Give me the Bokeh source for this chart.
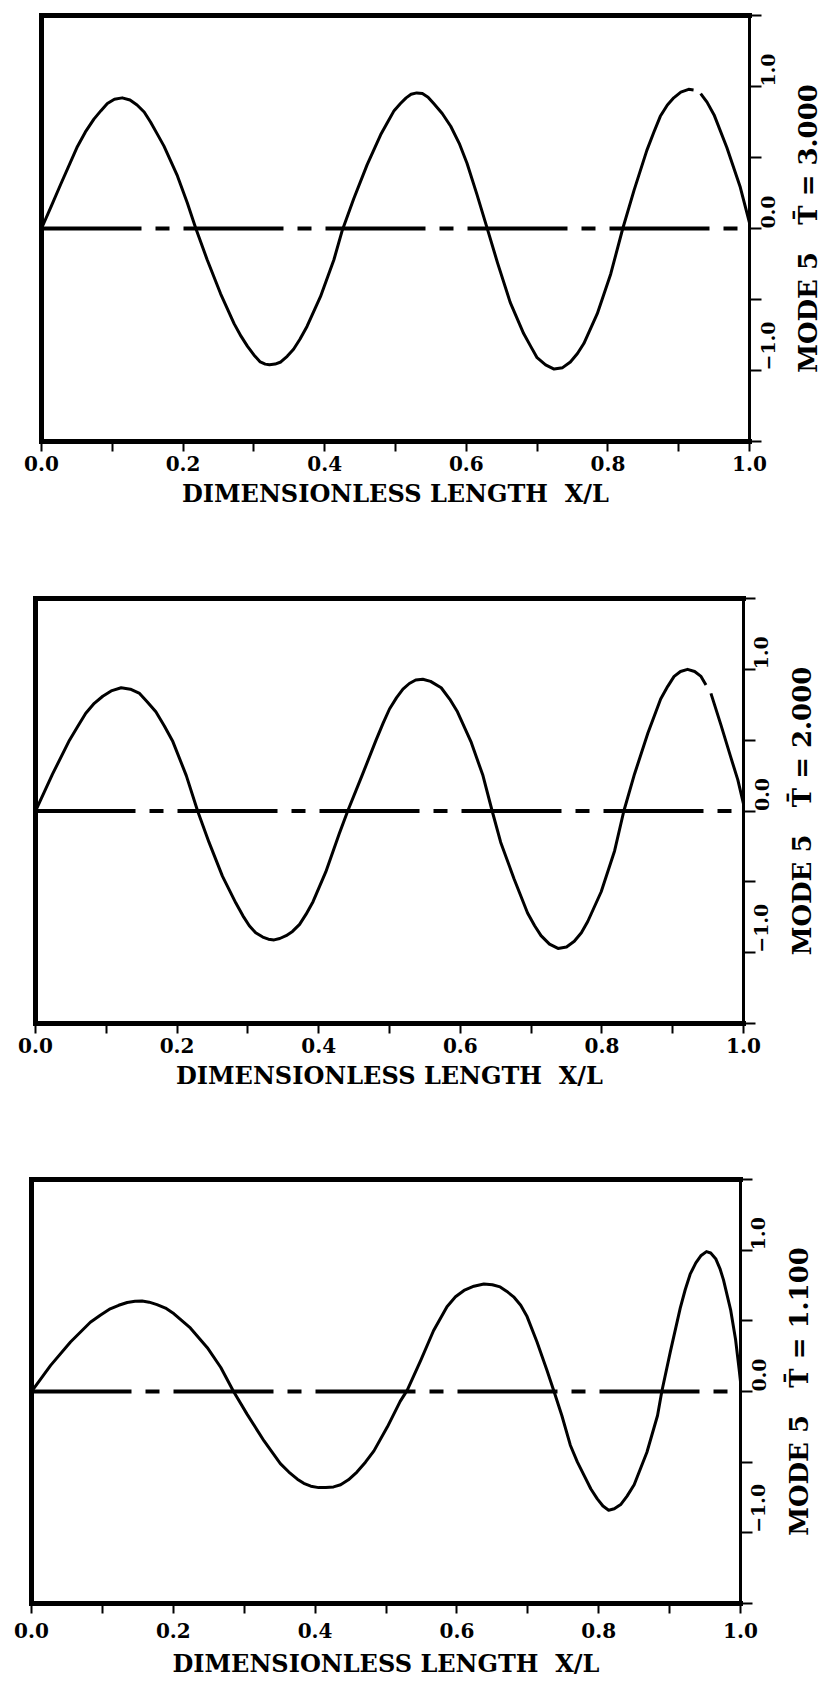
import math
from bokeh.plotting import figure
from bokeh.models import Range1d, LinearAxis, FixedTicker, PrintfTickFormatter
from bokeh.layouts import column, row
from bokeh.embed import file_html
from bokeh.resources import INLINE

NAN = float("nan")

# ---------------- data ----------------
x_ticks = [0.0, 0.2, 0.4, 0.6, 0.8, 1.0]
x_minor = [0.1, 0.3, 0.5, 0.7, 0.9]
y_ticks = [-1.0, 0.0, 1.0]
y_minor = [-1.5, -0.5, 0.5, 1.5]
y_tick_labels = {-1.0: "\u22121.0", 0.0: "0.0", 1.0: "1.0"}
x_title = "DIMENSIONLESS LENGTH\u00a0\u00a0X/L"

zero_x = [0.0, 1.0]
zero_y = [0.0, 0.0]

# MODE 5, T = 3.000
t3_label = "MODE 5\u00a0\u00a0\u00a0T\u0304 = 3.000"
t3_x = [0.000, 0.014, 0.027, 0.050, 0.062, 0.074, 0.084, 0.093, 0.103, 0.114,
        0.125, 0.135, 0.145, 0.154, 0.163, 0.173, 0.192, 0.206, 0.218, 0.234,
        0.253, 0.272, 0.282, 0.291, 0.300, 0.309, 0.316, 0.322, 0.330, 0.338,
        0.347, 0.356, 0.365, 0.375, 0.394, 0.413, 0.425, 0.441, 0.460, 0.479,
        0.489, 0.498, 0.507, 0.515, 0.522, 0.530, 0.538, 0.546, 0.554, 0.566,
        0.578, 0.590, 0.601, 0.615, 0.629, 0.644, 0.662, 0.681, 0.691, 0.700,
        0.712, 0.724, 0.736, 0.747, 0.757, 0.766, 0.785, 0.804, 0.821, 0.837,
        0.855, 0.865, 0.874, 0.884, 0.893, 0.903, 0.914, 0.921, NAN, 0.931,
        0.940, 0.950, 0.968, 0.987, 1.000]
t3_y = [0.00, 0.16, 0.31, 0.57, 0.68, 0.77, 0.83, 0.88, 0.91, 0.92,
        0.905, 0.87, 0.82, 0.75, 0.67, 0.58, 0.37, 0.18, 0.00, -0.22,
        -0.46, -0.67, -0.76, -0.83, -0.89, -0.94, -0.955, -0.96, -0.955, -0.94,
        -0.90, -0.85, -0.78, -0.69, -0.48, -0.22, -0.01, 0.21, 0.45, 0.66,
        0.75, 0.83, 0.88, 0.92, 0.945, 0.955, 0.95, 0.925, 0.88, 0.81,
        0.72, 0.60, 0.46, 0.24, 0.01, -0.24, -0.52, -0.74, -0.83, -0.91,
        -0.96, -0.99, -0.98, -0.94, -0.88, -0.81, -0.60, -0.32, 0.00, 0.27,
        0.55, 0.68, 0.79, 0.87, 0.92, 0.96, 0.98, 0.975, NAN, 0.95,
        0.89, 0.80, 0.57, 0.29, 0.04]

# MODE 5, T = 2.000
t2_label = "MODE 5\u00a0\u00a0\u00a0T\u0304 = 2.000"
t2_x = [0.000, 0.012, 0.024, 0.048, 0.060, 0.071, 0.083, 0.095, 0.108, 0.121,
        0.134, 0.147, 0.158, 0.170, 0.182, 0.194, 0.213, 0.229, 0.245, 0.264,
        0.283, 0.293, 0.302, 0.311, 0.321, 0.329, 0.337, 0.345, 0.354, 0.363,
        0.373, 0.382, 0.392, 0.410, 0.429, 0.441, 0.462, 0.481, 0.491, 0.500,
        0.510, 0.519, 0.528, 0.537, 0.547, 0.558, 0.573, 0.585, 0.596, 0.615,
        0.632, 0.645, 0.657, 0.676, 0.695, 0.705, 0.714, 0.726, 0.738, 0.750,
        0.761, 0.771, 0.780, 0.799, 0.818, 0.831, 0.846, 0.865, 0.883, 0.893,
        0.902, 0.911, 0.921, 0.931, 0.940, 0.947, NAN, 0.954, 0.968, 0.982,
        0.992, 1.000]
t2_y = [0.00, 0.13, 0.26, 0.50, 0.60, 0.69, 0.76, 0.81, 0.85, 0.87,
        0.86, 0.83, 0.77, 0.70, 0.60, 0.49, 0.25, 0.00, -0.22, -0.46,
        -0.65, -0.74, -0.81, -0.86, -0.89, -0.905, -0.91, -0.90, -0.88, -0.85,
        -0.80, -0.73, -0.64, -0.43, -0.16, 0.00, 0.26, 0.50, 0.62, 0.72,
        0.80, 0.86, 0.90, 0.925, 0.93, 0.915, 0.87, 0.79, 0.70, 0.49,
        0.25, 0.00, -0.22, -0.48, -0.72, -0.81, -0.88, -0.94, -0.97, -0.96,
        -0.92, -0.86, -0.78, -0.57, -0.28, 0.00, 0.26, 0.55, 0.79, 0.88,
        0.95, 0.985, 1.00, 0.985, 0.95, 0.89, NAN, 0.83, 0.61, 0.38,
        0.22, 0.05]

# MODE 5, T = 1.100
t1_label = "MODE 5\u00a0\u00a0\u00a0T\u0304 = 1.100"
t1_x = [0.000, 0.027, 0.055, 0.083, 0.097, 0.111, 0.123, 0.135, 0.146, 0.156,
        0.166, 0.177, 0.189, 0.201, 0.224, 0.248, 0.267, 0.285, 0.304, 0.328,
        0.351, 0.363, 0.375, 0.384, 0.394, 0.405, 0.415, 0.426, 0.436, 0.447,
        0.459, 0.471, 0.483, 0.502, 0.520, 0.530, 0.549, 0.567, 0.586, 0.598,
        0.610, 0.624, 0.638, 0.650, 0.661, 0.670, 0.680, 0.690, 0.699, 0.713,
        0.727, 0.737, 0.748, 0.760, 0.770, 0.779, 0.789, 0.798, 0.806, 0.814,
        0.822, 0.831, 0.840, 0.850, 0.868, 0.883, 0.889, 0.901, 0.915, 0.922,
        0.929, 0.937, 0.944, 0.952, 0.958, 0.965, 0.971, 0.976, 0.986, 0.993,
        0.998, 1.000]
t1_y = [0.00, 0.185, 0.35, 0.49, 0.54, 0.585, 0.61, 0.63, 0.638, 0.64,
        0.632, 0.615, 0.59, 0.55, 0.45, 0.31, 0.17, 0.00, -0.16, -0.35,
        -0.51, -0.57, -0.62, -0.65, -0.67, -0.68, -0.68, -0.675, -0.66, -0.625,
        -0.57, -0.50, -0.42, -0.25, -0.07, 0.01, 0.22, 0.43, 0.60, 0.67,
        0.715, 0.745, 0.76, 0.755, 0.74, 0.71, 0.67, 0.61, 0.53, 0.35,
        0.15, 0.00, -0.17, -0.38, -0.50, -0.59, -0.69, -0.76, -0.81, -0.84,
        -0.83, -0.80, -0.74, -0.66, -0.43, -0.17, 0.00, 0.28, 0.59, 0.72,
        0.83, 0.91, 0.96, 0.99, 0.98, 0.94, 0.87, 0.79, 0.58, 0.37,
        0.16, 0.07]

FONT = "DejaVu Serif"
RIGHT = 40      # space for right-axis ticks and labels
STRIP_L = 31    # strip space holding the side title


def make_panel(xs, ys, label, left, top, fw, fh, bottom,
               tick_standoff, title_standoff):
    label_w = 826 - left - fw - RIGHT
    p = figure(frame_width=fw, frame_height=fh,
               min_border_left=left, min_border_top=top,
               min_border_right=RIGHT, min_border_bottom=bottom,
               x_range=Range1d(0, 1), y_range=Range1d(-1.5, 1.5),
               y_axis_location="right", x_axis_location="below",
               output_backend="svg", toolbar_location=None,
               background_fill_color="white", border_fill_color="white")
    p.outline_line_color = None
    p.xgrid.visible = False
    p.ygrid.visible = False

    # bottom axis
    xa = p.xaxis[0]
    xa.ticker = FixedTicker(ticks=x_ticks, minor_ticks=x_minor)
    xa.formatter = PrintfTickFormatter(format="%.1f")
    xa.axis_line_width = 5
    xa.axis_line_cap = "square"
    xa.major_tick_in = 0
    xa.major_tick_out = 10
    xa.minor_tick_in = 0
    xa.minor_tick_out = 10
    xa.major_tick_line_width = 2
    xa.minor_tick_line_width = 2
    xa.major_label_standoff = tick_standoff
    xa.major_label_text_font = FONT
    xa.major_label_text_font_style = "bold"
    xa.major_label_text_font_size = "20px"
    xa.major_label_text_color = "black"
    xa.axis_label = x_title
    xa.axis_label_text_font = FONT
    xa.axis_label_text_font_style = "bold"
    xa.axis_label_text_font_size = "24px"
    xa.axis_label_text_color = "black"
    xa.axis_label_standoff = title_standoff

    # right axis
    ya = p.yaxis[0]
    ya.ticker = FixedTicker(ticks=y_ticks, minor_ticks=y_minor)
    ya.major_label_overrides = y_tick_labels
    ya.axis_line_width = 3
    ya.major_tick_in = 0
    ya.major_tick_out = 12
    ya.minor_tick_in = 0
    ya.minor_tick_out = 12
    ya.major_tick_line_width = 2
    ya.minor_tick_line_width = 2
    ya.major_label_orientation = math.pi / 2
    ya.major_label_standoff = 6
    ya.major_label_text_font = FONT
    ya.major_label_text_font_style = "bold"
    ya.major_label_text_font_size = "19px"
    ya.major_label_text_color = "black"

    # thick left / top frame lines
    for side in ("left", "above"):
        ax = LinearAxis(ticker=FixedTicker(ticks=[]), axis_line_width=5,
                        axis_line_cap="square", major_tick_out=0, major_tick_in=0,
                        minor_tick_out=0, minor_tick_in=0,
                        major_label_text_font_size="0px")
        p.add_layout(ax, side)

    # zero (dashed) line and mode shape
    p.line(zero_x, zero_y, line_color="black", line_width=4, line_dash="100 14 14 14")
    p.line(xs, ys, line_color="black", line_width=3, line_join="round")

    # side title "MODE 5  T = ...": the label of a bare left axis in a thin strip
    # (left-axis labels read upward and are centred on the frame)
    q = figure(frame_width=2, frame_height=fh,
               min_border_left=STRIP_L, min_border_right=label_w - STRIP_L - 2,
               min_border_top=top, min_border_bottom=bottom,
               x_range=Range1d(0, 1), y_range=Range1d(-1.5, 1.5),
               x_axis_type=None, y_axis_location="left",
               output_backend="svg", toolbar_location=None,
               background_fill_color="white", border_fill_color="white")
    q.outline_line_color = None
    q.xgrid.visible = False
    q.ygrid.visible = False
    qa = q.yaxis[0]
    qa.ticker = FixedTicker(ticks=[])
    qa.axis_line_color = None
    qa.major_tick_out = 0
    qa.major_tick_in = 0
    qa.minor_tick_out = 0
    qa.minor_tick_in = 0
    qa.major_label_text_font_size = "0px"
    qa.major_label_standoff = 0
    qa.axis_label = label
    qa.axis_label_text_font = FONT
    qa.axis_label_text_font_style = "bold"
    qa.axis_label_text_font_size = "26px"
    qa.axis_label_text_color = "black"
    qa.axis_label_standoff = 0
    return row(p, q, spacing=0)


r1 = make_panel(t3_x, t3_y, t3_label, left=41, top=15, fw=708, fh=426, bottom=139,
                tick_standoff=4, title_standoff=5)
r2 = make_panel(t2_x, t2_y, t2_label, left=35, top=18, fw=708, fh=425, bottom=137,
                tick_standoff=4, title_standoff=5)
r3 = make_panel(t1_x, t1_y, t1_label, left=31, top=19, fw=709, fh=424, bottom=81,
                tick_standoff=9, title_standoff=8)

layout = column(r1, r2, r3, spacing=0)

open("out.html", "w").write(file_html(layout, INLINE))
